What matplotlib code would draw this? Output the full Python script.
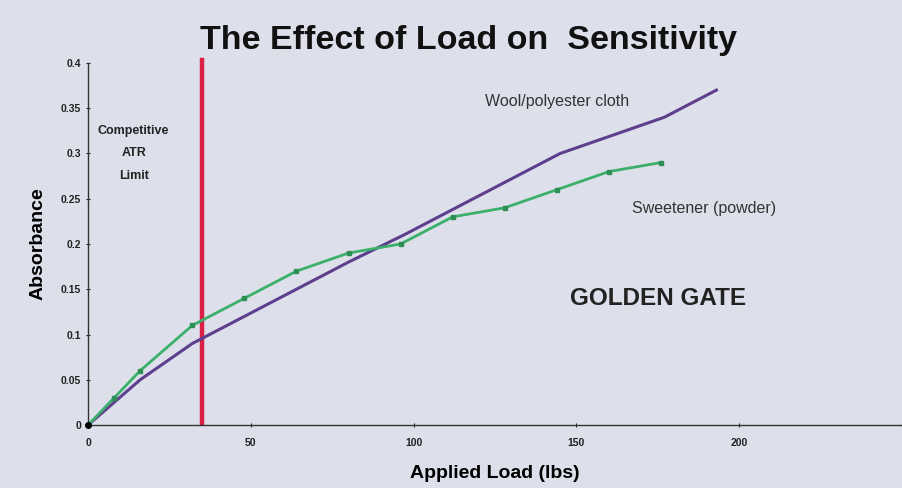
import matplotlib
matplotlib.use("Agg")
import matplotlib.pyplot as plt

# Data
wool_x = [0, 16, 32, 48, 64, 80, 97, 113, 129, 145, 161, 177, 193]
wool_y = [0, 0.05, 0.09, 0.12, 0.15, 0.18, 0.21, 0.24, 0.27, 0.30, 0.32, 0.34, 0.37]
sweet_x = [0, 8, 16, 32, 48, 64, 80, 96, 112, 128, 144, 160, 176]
sweet_y = [0, 0.03, 0.06, 0.11, 0.14, 0.17, 0.19, 0.20, 0.23, 0.24, 0.26, 0.28, 0.29]
limit_x = 35
x_ticks = [0, 50, 100, 150, 200, 250]
x_tick_labels = ["0", "50", "100", "150", "200", ""]
y_ticks = [0, 0.05, 0.1, 0.15, 0.2, 0.25, 0.3, 0.35, 0.4]
y_tick_labels = ["0", "0.05", "0.1", "0.15", "0.2", "0.25", "0.3", "0.35", "0.4"]

bg = "#dde0eb"
plt.rcParams['font.family'] = ['Liberation Sans', 'DejaVu Sans']

fig = plt.figure(figsize=(9.02, 4.88), dpi=100, facecolor=bg)
ax = fig.add_axes([0.0976, 0.129, 0.9024, 0.742], facecolor=bg)

ax.plot(wool_x, wool_y, color="#5e3f8e", lw=2.2, zorder=3)
ax.plot(sweet_x, sweet_y, color="#3bb06a", lw=2.0, marker="s", ms=3,
        mfc="#2e8f55", mec="#2e8f55", zorder=4)
ax.plot([0], [0], marker="o", color="black", ms=4, zorder=5, clip_on=False)
ax.plot([limit_x, limit_x], [0.002, 0.403], color="#dc1f45", lw=3.2,
        zorder=2, clip_on=False)

ax.set_xlim(0, 249)
ax.set_ylim(0, 0.4)
ax.set_xticks(x_ticks)
ax.set_xticklabels(x_tick_labels)
ax.set_yticks(y_ticks)
ax.set_yticklabels(y_tick_labels)
for s in ["top", "right"]:
    ax.spines[s].set_visible(False)
for s in ["left", "bottom"]:
    ax.spines[s].set_color("#333333")
    ax.spines[s].set_linewidth(1.0)
ax.tick_params(axis="both", length=3, width=0.8, labelsize=7.5, colors="#222222",
               direction="inout")
ax.tick_params(axis="x", pad=8)
for lab in ax.get_xticklabels() + ax.get_yticklabels():
    lab.set_fontweight("bold")

ax.set_xlabel("Applied Load (lbs)", fontsize=14, fontweight="bold", labelpad=12)
ax.set_ylabel("Absorbance", fontsize=14, fontweight="bold", labelpad=10)

fig.text(0.519, 0.916, "The Effect of Load on  Sensitivity", fontsize=24.5,
         fontweight="bold", ha="center", va="center", color="#111111")

ax.text(14, 0.30, "Competitive\nATR\nLimit", fontsize=9, fontweight="bold",
        ha="center", va="center", linespacing=2.2, color="#222222")
ax.text(122, 0.357, "Wool/polyester cloth", fontsize=11.5, ha="left", va="center",
        color="#333333")
ax.text(167, 0.239, "Sweetener (powder)", fontsize=11.5, ha="left", va="center",
        color="#333333")
ax.text(148, 0.14, "GOLDEN GATE", fontsize=17.5, fontweight="bold", ha="left",
        va="center", color="#222222")

fig.savefig("out.png", dpi=100, facecolor=bg)
